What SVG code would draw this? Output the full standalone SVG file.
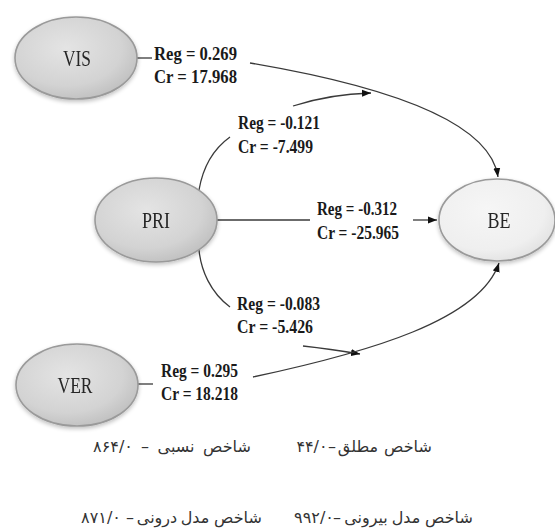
<svg xmlns="http://www.w3.org/2000/svg" width="555" height="532" viewBox="0 0 555 532">
<style>
.node{stroke:#9a9a9a;stroke-width:1.6}
.dark{fill:url(#gDark)}
.light{fill:url(#gLight)}
.nl{font-family:"Liberation Serif","Times New Roman",serif;font-size:23px;fill:#262626;text-anchor:middle}
.lb{font-family:"Liberation Serif","Times New Roman",serif;font-size:18px;font-weight:bold;fill:#1a1a1a}
.cn{fill:none;stroke:#3a3a3a;stroke-width:1.3}
.fa{font-family:"DejaVu Sans",sans-serif;font-size:16px;fill:#333;text-anchor:middle}
</style>
<defs>
<radialGradient id="gDark" cx="0.42" cy="0.38" r="0.65">
<stop offset="0" stop-color="#e4e4e4"/>
<stop offset="0.7" stop-color="#d3d3d3"/>
<stop offset="1" stop-color="#c0c0c0"/>
</radialGradient>
<radialGradient id="gLight" cx="0.42" cy="0.38" r="0.65">
<stop offset="0" stop-color="#f6f6f6"/>
<stop offset="0.75" stop-color="#efefef"/>
<stop offset="1" stop-color="#e2e2e2"/>
</radialGradient>
<filter id="sh" x="-20%" y="-20%" width="140%" height="150%">
<feGaussianBlur in="SourceAlpha" stdDeviation="2"/>
<feOffset dx="0" dy="2" result="b"/>
<feComponentTransfer><feFuncA type="linear" slope="0.25"/></feComponentTransfer>
<feMerge><feMergeNode/><feMergeNode in="SourceGraphic"/></feMerge>
</filter>
<marker id="ah" markerWidth="10" markerHeight="8" refX="9" refY="4" orient="auto" markerUnits="userSpaceOnUse">
<path d="M0,0.5 L9,4 L0,7.5 z" fill="#111"/>
</marker>
</defs>
<rect width="555" height="532" fill="#ffffff"/>

<g id="connectors">
<path class="cn" d="M137,58 H152"/>
<path class="cn" d="M250,63 C380,85 490,120 498,177" marker-end="url(#ah)"/>
<path class="cn" d="M199,190 Q205,155 230,137"/>
<path class="cn" d="M293,106 Q330,94 371,93" marker-end="url(#ah)"/>
<path class="cn" d="M217,220 H310"/>
<path class="cn" d="M413,220 H437" marker-end="url(#ah)"/>
<path class="cn" d="M199,250 C201,270 210,292 230,307"/>
<path class="cn" d="M303,346 Q330,349 360,354" marker-end="url(#ah)"/>
<path class="cn" d="M138,384 H153"/>
<path class="cn" d="M253,377 C370,352 480,320 499,263" marker-end="url(#ah)"/>
</g>

<g id="labels">
<text class="lb" x="154" y="60" textLength="83" lengthAdjust="spacingAndGlyphs">Reg = 0.269</text>
<text class="lb" x="154" y="83" textLength="83" lengthAdjust="spacingAndGlyphs">Cr = 17.968</text>
<text class="lb" x="238" y="129" textLength="82" lengthAdjust="spacingAndGlyphs">Reg = -0.121</text>
<text class="lb" x="238" y="153" textLength="75" lengthAdjust="spacingAndGlyphs">Cr = -7.499</text>
<text class="lb" x="317" y="215" textLength="80" lengthAdjust="spacingAndGlyphs">Reg = -0.312</text>
<text class="lb" x="317" y="239" textLength="82" lengthAdjust="spacingAndGlyphs">Cr = -25.965</text>
<text class="lb" x="237" y="310" textLength="83" lengthAdjust="spacingAndGlyphs">Reg = -0.083</text>
<text class="lb" x="237" y="333" textLength="76" lengthAdjust="spacingAndGlyphs">Cr = -5.426</text>
<text class="lb" x="161" y="377" textLength="77" lengthAdjust="spacingAndGlyphs">Reg = 0.295</text>
<text class="lb" x="161" y="400" textLength="77" lengthAdjust="spacingAndGlyphs">Cr = 18.218</text>
</g>

<g id="VIS" filter="url(#sh)">
<ellipse class="node dark" cx="76" cy="58" rx="61" ry="41"/>
<text class="nl" x="77" y="66" textLength="28" lengthAdjust="spacingAndGlyphs">VIS</text>
</g>
<g id="PRI" filter="url(#sh)">
<ellipse class="node dark" cx="156" cy="220" rx="61" ry="42"/>
<text class="nl" x="156" y="228" textLength="28" lengthAdjust="spacingAndGlyphs">PRI</text>
</g>
<g id="VER" filter="url(#sh)">
<ellipse class="node dark" cx="77" cy="385" rx="61" ry="41"/>
<text class="nl" x="75" y="393" textLength="35" lengthAdjust="spacingAndGlyphs">VER</text>
</g>
<g id="BE" filter="url(#sh)">
<ellipse class="node light" cx="497" cy="220" rx="58" ry="41"/>
<text class="nl" x="499" y="228" textLength="23" lengthAdjust="spacingAndGlyphs">BE</text>
</g>

<g id="index-relative">
<text class="fa" x="113" y="452">۸۶۴/۰</text>
<text class="fa" x="145" y="452">–</text>
<text class="fa" x="176" y="452">نسبی</text>
<text class="fa" x="227" y="452">شاخص</text>
</g>
<g id="index-absolute">
<text class="fa" x="312" y="452">۴۴/۰</text>
<text class="fa" x="332" y="452">–</text>
<text class="fa" x="358" y="452">مطلق</text>
<text class="fa" x="408" y="452">شاخص</text>
</g>
<g id="index-inner">
<text class="fa" x="101" y="523">۸۷۱/۰</text>
<text class="fa" x="130" y="523">–</text>
<text class="fa" x="157" y="523">درونی</text>
<text class="fa" x="195" y="523">مدل</text>
<text class="fa" x="238" y="523">شاخص</text>
</g>
<g id="index-outer">
<text class="fa" x="314" y="523">۹۹۲/۰</text>
<text class="fa" x="337" y="523">–</text>
<text class="fa" x="366" y="523">بیرونی</text>
<text class="fa" x="406" y="523">مدل</text>
<text class="fa" x="449" y="523">شاخص</text>
</g>
</svg>
